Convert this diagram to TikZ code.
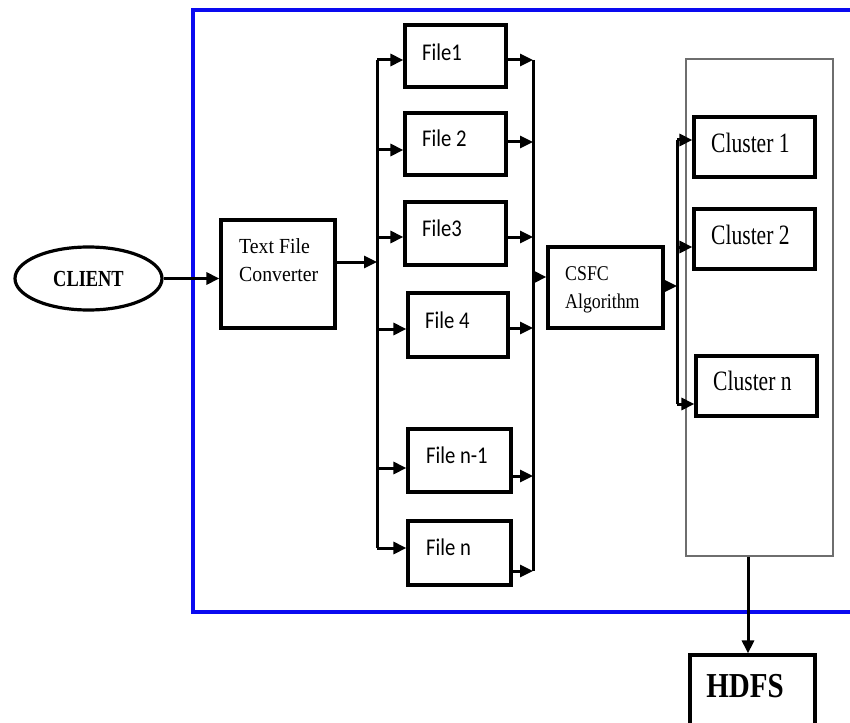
\documentclass[tikz,border=0pt]{standalone}
\usepackage{fontspec}
\usetikzlibrary{arrows.meta,shapes.geometric}
\newfontfamily\convfont[FakeStretch=0.92]{Liberation Serif}
\newfontfamily\csfcfont[FakeStretch=0.85]{Liberation Serif}
\newfontfamily\clusfont[FakeStretch=0.77]{Liberation Serif}
\newfontfamily\clientfont[FakeStretch=0.8]{Liberation Serif}
\newfontfamily\hdfsfont[FakeStretch=0.83]{Liberation Serif}
\newfontfamily\filefont[FakeStretch=0.86]{Carlito}
\definecolor{frameblue}{RGB}{10,10,240}
\definecolor{contgray}{RGB}{110,110,110}
\tikzset{
  blk/.style={draw=black, line width=3.2pt, rectangle, inner sep=0pt},
  lbl/.style={inner sep=0pt, anchor=west, align=left},
  bus/.style={draw=black, line width=3pt},
  arr/.style={draw=black, line width=3pt, -{Triangle[length=13pt,width=12pt]}},
}
\begin{document}
\begin{tikzpicture}[x=1pt,y=-1pt]
\useasboundingbox (0,0) rectangle (850,722);
\clip (0,0) rectangle (850,722);
\fill[white] (0,0) rectangle (850,722);
% outer blue frame
\draw[frameblue, line width=3.4pt] (193,10) rectangle (880,612);
% cluster container
\node[draw=contgray, line width=1.2pt, rectangle, minimum width=147pt, minimum height=497pt, inner sep=0pt] (cont) at (759.5,307.5) {};
% client
\node[draw=black, line width=3.2pt, ellipse, minimum width=147pt, minimum height=63pt, inner sep=0pt,
      font=\clientfont\bfseries\fontsize{23}{26}\selectfont] (client) at (88.5,278.5) {CLIENT};
% converter
\node[blk, minimum width=114pt, minimum height=108pt] (conv) at (278,274) {};
\node[lbl, font=\convfont\fontsize{21.5}{28}\selectfont] (convl) at (239,260) {Text File\\Converter};
% files
\node[blk, minimum width=101pt, minimum height=62pt] (f1) at (455.5,56) {};
\node[blk, minimum width=101pt, minimum height=62pt] (f2) at (455.5,144) {};
\node[blk, minimum width=101pt, minimum height=63pt] (f3) at (455.5,233.5) {};
\node[blk, minimum width=100pt, minimum height=64pt] (f4) at (458,325) {};
\node[blk, minimum width=103pt, minimum height=63pt] (fn1) at (459.5,460.5) {};
\node[blk, minimum width=103pt, minimum height=64pt] (fn) at (459.5,553) {};
\begin{scope}[every node/.style={lbl, font=\filefont\fontsize{24}{28}\selectfont}]
\node (f1l) at (422,52) {File1};
\node (f2l) at (422,138) {File 2};
\node (f3l) at (422,228) {File3};
\node (f4l) at (425,320) {File 4};
\node (fn1l) at (426,455) {File n-1};
\node (fnl) at (426,547) {File n};
\end{scope}
% CSFC
\node[blk, minimum width=115pt, minimum height=81pt] (csfc) at (605.5,287.5) {};
\node[lbl, font=\csfcfont\fontsize{21}{28}\selectfont] (csfcl) at (565,290) {CSFC\\Algorithm};
% clusters
\node[blk, minimum width=121pt, minimum height=60pt] (c1) at (754.5,147) {};
\node[blk, minimum width=121pt, minimum height=60pt] (c2) at (754.5,239) {};
\node[blk, minimum width=121pt, minimum height=60pt] (cn) at (756.5,386) {};
\begin{scope}[every node/.style={lbl, font=\clusfont\fontsize{28}{30}\selectfont}]
\node (c1l) at (711,143) {Cluster 1};
\node (c2l) at (711,235) {Cluster 2};
\node (cnl) at (713,381) {Cluster n};
\end{scope}
% HDFS
\node[blk, minimum width=125pt, minimum height=85pt] (hdfs) at (752.5,697.5) {};
\node[inner sep=0pt, font=\hdfsfont\bfseries\fontsize{35}{38}\selectfont] (hdfsl) at (745,686) {HDFS};
% connectors
\draw[arr] (client.east) -- (conv.west |- client.east);
\coordinate (lbm) at (377,262);
\draw[arr] (conv.east |- lbm) -- (lbm);
\coordinate (lbt) at (377,60);
\coordinate (lb2) at (377,150);
\coordinate (lb3) at (377,237);
\coordinate (lb4) at (377,329);
\coordinate (lb5) at (377,468);
\coordinate (lbb) at (377,548);
\draw[bus] (lbt) -- (lbb);
\draw[arr] (lbt) -- (f1.west |- lbt);
\draw[arr] (lb2) -- (f2.west |- lb2);
\draw[arr] (lb3) -- (f3.west |- lb3);
\draw[arr] (lb4) -- (f4.west |- lb4);
\draw[arr] (lb5) -- (fn1.west |- lb5);
\draw[arr] (lbb) -- (fn.west |- lbb);
\coordinate (rbt) at (533,60);
\coordinate (rb2) at (533,142);
\coordinate (rb3) at (533,237);
\coordinate (rb4) at (533,328);
\coordinate (rb5) at (533,476);
\coordinate (rbb) at (533,571);
\draw[bus] (rbt) -- (rbb);
\draw[arr] (f1.east |- rbt) -- (rbt);
\draw[arr] (f2.east |- rb2) -- (rb2);
\draw[arr] (f3.east |- rb3) -- (rb3);
\draw[arr] (f4.east |- rb4) -- (rb4);
\draw[arr] (fn1.east |- rb5) -- (rb5);
\draw[arr] (fn.east |- rbb) -- (rbb);
\coordinate (rbc) at (533,277);
\draw[arr] (rbc) -- (csfc.west |- rbc);
\coordinate (cbm) at (677,286);
\draw[arr] (csfc.east |- cbm) -- (cbm);
\coordinate (cbt) at (677,140);
\coordinate (cb2) at (677,247);
\coordinate (cbb) at (677,404);
\draw[bus] (cbt) -- (cbb);
\draw[arr] (cbt) -- (c1.west |- cbt);
\draw[arr] (cb2) -- (c2.west |- cb2);
\draw[arr] (cbb) -- (cn.west |- cbb);
\coordinate (hx) at (748,600);
\draw[arr] (cont.south -| hx) -- (hdfs.north -| hx);
\end{tikzpicture}
\end{document}
